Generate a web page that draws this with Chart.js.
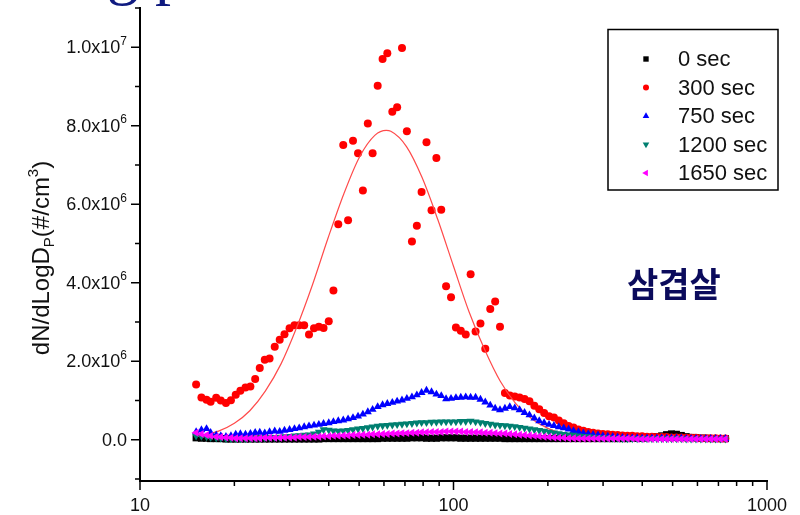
<!DOCTYPE html>
<html>
<head>
<meta charset="utf-8">
<script src="https://cdn.jsdelivr.net/npm/chart.js@4.4.1/dist/chart.umd.min.js"></script>
<style>
  body { margin: 0; background: #fff; }
  #wrap { position: relative; width: 800px; height: 515px; overflow: hidden; }
  #topTitle { position: absolute; left: 75px; top: -61px; font: 64px/1 'Liberation Serif', serif; color: #0f1a80; white-space: nowrap; }
  #sample { position: absolute; left: 627px; top: 266px; font: bold 34px/1 'Noto Sans CJK KR', sans-serif; color: #0b0b5c; white-space: nowrap; }
</style>
</head>
<body>
<div id="wrap">
  <canvas id="c" width="800" height="515"></canvas>
  <div id="topTitle">ng p</div>
  <div id="sample">삼겹살</div>
</div>
<script>
// particle diameter (nm), 64 channels / decade
const diam = [
  15.1, 15.7, 16.3, 16.8, 17.5, 18.1, 18.8, 19.5, 20.2, 20.9,
  21.7, 22.5, 23.3, 24.1, 25.0, 25.9, 26.9, 27.9, 28.9, 30.0,
  31.1, 32.2, 33.4, 34.6, 35.9, 37.2, 38.5, 40.0, 41.4, 42.9,
  44.5, 46.1, 47.8, 49.6, 51.4, 53.3, 55.2, 57.3, 59.4, 61.5,
  63.8, 66.1, 68.5, 71.0, 73.7, 76.4, 79.1, 82.0, 85.1, 88.2,
  91.4, 94.7, 98.2, 101.8, 105.5, 109.4, 113.4, 117.6, 121.9, 126.3,
  131.0, 135.8, 140.7, 145.9, 151.2, 156.8, 162.5, 168.5, 174.7, 181.1,
  187.7, 194.6, 201.7, 209.1, 216.7, 224.7, 232.9, 241.4, 250.3, 259.5,
  269.0, 278.8, 289.0, 299.6, 310.6, 322.0, 333.8, 346.0, 358.7, 371.8,
  385.4, 399.5, 414.2, 429.4, 445.1, 461.4, 478.3, 495.8, 514.0, 532.8,
  552.3, 572.5, 593.5, 615.3, 637.8, 661.2, 685.4, 710.5, 736.5
];

// dN/dLogDp in units of 10^6 #/cm3
const sec0 = [
  0.05, 0.04, 0.04, 0.03, 0.03, 0.03, 0.02, 0.02, 0.02, 0.02,
  0.02, 0.02, 0.02, 0.02, 0.02, 0.02, 0.02, 0.02, 0.02, 0.02,
  0.02, 0.02, 0.02, 0.02, 0.02, 0.02, 0.03, 0.03, 0.03, 0.03,
  0.03, 0.03, 0.03, 0.03, 0.03, 0.03, 0.03, 0.03, 0.04, 0.04,
  0.04, 0.04, 0.04, 0.04, 0.05, 0.05, 0.05, 0.04, 0.04, 0.04,
  0.05, 0.05, 0.05, 0.05, 0.04, 0.04, 0.04, 0.04, 0.04, 0.04,
  0.04, 0.04, 0.04, 0.03, 0.03, 0.03, 0.03, 0.03, 0.03, 0.03,
  0.03, 0.03, 0.03, 0.03, 0.03, 0.03, 0.03, 0.03, 0.03, 0.03,
  0.03, 0.03, 0.03, 0.03, 0.03, 0.03, 0.03, 0.03, 0.03, 0.04,
  0.04, 0.04, 0.05, 0.06, 0.08, 0.10, 0.13, 0.15, 0.14, 0.11,
  0.08, 0.06, 0.05, 0.04, 0.04, 0.03, 0.03, 0.03, 0.03
];
const sec300 = [
  1.41, 1.08, 1.02, 0.97, 1.07, 1.00, 0.94, 1.01, 1.15, 1.25,
  1.33, 1.36, 1.55, 1.83, 2.04, 2.07, 2.37, 2.55, 2.69, 2.84,
  2.92, 2.92, 2.92, 2.68, 2.84, 2.88, 2.85, 3.02, 3.80, 5.49,
  7.51, 5.59, 7.62, 7.30, 6.35, 8.06, 7.30, 9.02, 9.70, 9.85,
  8.36, 8.47, 9.98, 7.86, 5.05, 5.45, 6.31, 7.58, 5.85, 7.18,
  5.86, 3.91, 3.63, 2.86, 2.78, 2.68, 4.22, 2.76, 2.96, 2.32,
  3.33, 3.52, 2.88, 1.19, 1.13, 1.10, 1.08, 1.04, 0.98, 0.87,
  0.78, 0.68, 0.60, 0.57, 0.49, 0.42, 0.35, 0.31, 0.26, 0.23,
  0.20, 0.18, 0.16, 0.15, 0.14, 0.13, 0.12, 0.11, 0.10, 0.10,
  0.09, 0.09, 0.08, 0.08, 0.07, 0.07, 0.07, 0.06, 0.06, 0.06,
  0.05, 0.05, 0.05, 0.04, 0.04, 0.04, 0.04, 0.03, 0.03
];
const sec750 = [
  0.20, 0.25, 0.28, 0.18, 0.12, 0.10, 0.08, 0.10, 0.14, 0.15,
  0.14, 0.16, 0.18, 0.19, 0.17, 0.20, 0.22, 0.21, 0.24, 0.26,
  0.28, 0.30, 0.33, 0.35, 0.37, 0.39, 0.41, 0.43, 0.46, 0.48,
  0.50, 0.53, 0.56, 0.60, 0.65, 0.71, 0.77, 0.84, 0.89, 0.92,
  0.95, 0.98, 1.01, 1.05, 1.09, 1.14, 1.20, 1.26, 1.22, 1.16,
  1.12, 1.04, 1.05, 1.07, 1.08, 1.09, 1.08, 1.08, 1.03, 0.96,
  0.88, 0.80, 0.76, 0.80, 0.84, 0.81, 0.76, 0.69, 0.63, 0.55,
  0.48, 0.43, 0.39, 0.36, 0.33, 0.30, 0.27, 0.23, 0.20, 0.17,
  0.15, 0.13, 0.12, 0.10, 0.09, 0.08, 0.07, 0.06, 0.05, 0.05,
  0.05, 0.04, 0.04, 0.04, 0.04, 0.04, 0.04, 0.04, 0.04, 0.04,
  0.03, 0.03, 0.03, 0.03, 0.03, 0.03, 0.03, 0.03, 0.03
];
const sec1200 = [
  0.10, 0.09, 0.08, 0.06, 0.05, 0.04, 0.03, 0.03, 0.03, 0.03,
  0.03, 0.04, 0.04, 0.05, 0.05, 0.06, 0.06, 0.07, 0.08, 0.09,
  0.10, 0.11, 0.12, 0.13, 0.15, 0.20, 0.26, 0.25, 0.23, 0.22,
  0.23, 0.24, 0.26, 0.28, 0.29, 0.31, 0.33, 0.35, 0.36, 0.37,
  0.38, 0.39, 0.40, 0.41, 0.42, 0.43, 0.44, 0.44, 0.45, 0.45,
  0.46, 0.46, 0.46, 0.46, 0.47, 0.47, 0.48, 0.46, 0.44, 0.42,
  0.40, 0.38, 0.37, 0.36, 0.35, 0.34, 0.32, 0.30, 0.28, 0.26,
  0.24, 0.22, 0.20, 0.18, 0.16, 0.14, 0.13, 0.12, 0.10, 0.09,
  0.08, 0.07, 0.06, 0.05, 0.05, 0.04, 0.04, 0.03, 0.03, 0.03,
  0.03, 0.03, 0.03, 0.03, 0.03, 0.03, 0.03, 0.03, 0.03, 0.03,
  0.02, 0.02, 0.02, 0.02, 0.02, 0.02, 0.02, 0.02, 0.02
];
const sec1650 = [
  0.18, 0.15, 0.12, 0.10, 0.08, 0.07, 0.06, 0.05, 0.04, 0.04,
  0.04, 0.04, 0.04, 0.04, 0.05, 0.05, 0.05, 0.05, 0.06, 0.06,
  0.06, 0.07, 0.07, 0.07, 0.08, 0.08, 0.09, 0.09, 0.10, 0.10,
  0.11, 0.11, 0.12, 0.12, 0.13, 0.13, 0.14, 0.14, 0.15, 0.15,
  0.16, 0.16, 0.17, 0.17, 0.18, 0.18, 0.19, 0.19, 0.20, 0.20,
  0.20, 0.21, 0.21, 0.21, 0.21, 0.20, 0.20, 0.19, 0.19, 0.18,
  0.18, 0.17, 0.16, 0.16, 0.15, 0.14, 0.13, 0.12, 0.11, 0.10,
  0.09, 0.08, 0.07, 0.06, 0.05, 0.05, 0.04, 0.04, 0.03, 0.03,
  0.03, 0.03, 0.03, 0.03, 0.03, 0.03, 0.03, 0.03, 0.03, 0.03,
  0.02, 0.02, 0.02, 0.02, 0.02, 0.02, 0.02, 0.02, 0.02, 0.02,
  0.02, 0.02, 0.02, 0.02, 0.02, 0.02, 0.02, 0.02, 0.02
];

// fitted curve for 300 sec
const fitDiam = [15.1, 15.8, 17.8, 20.0, 22.4, 25.1, 28.2, 31.6, 35.5, 39.8, 44.7, 50.1, 56.2, 61.0,
                 63.1, 70.8, 79.4, 89.1, 100, 112, 126, 141, 158, 178, 200, 224, 251, 316, 398, 501, 736.5];
const fit300 = [0.08, 0.11, 0.22, 0.42, 0.74, 1.24, 1.94, 2.86, 3.95, 5.14, 6.27, 7.20, 7.76, 7.88,
                7.86, 7.47, 6.68, 5.61, 4.42, 3.27, 2.28, 1.49, 0.92, 0.53, 0.29, 0.15, 0.07, 0.013, 0.002, 0, 0];

const seriesLabels = ['0 sec', '300 sec', '750 sec', '1200 sec', '1650 sec'];
const xLabelTicks = [10, 100, 1000];
const xMinorTicks = [20, 30, 40, 50, 60, 70, 80, 90, 200, 300, 400, 500, 600, 700, 800, 900];
const yLabelTicks = [0, 2, 4, 6, 8, 10];
const yMinorTicks = [-1, 1, 3, 5, 7, 9, 11];

Chart.defaults.font.family = "'Liberation Sans', Arial, sans-serif";
Chart.defaults.color = '#111';
const FONT = "'Liberation Sans', Arial, sans-serif";

function pts(vals, xs) {
  xs = xs || diam;
  return xs.map((d, i) => ({ x: d, y: vals[i] }));
}

const markers = [
  { color: '#000000', style: 'rect', radius: 5, rot: 0 },
  { color: '#ff0000', style: 'circle', radius: 4, rot: 0 },
  { color: '#0000ff', style: 'triangle', radius: 4.6, rot: 0 },
  { color: '#007f70', style: 'triangle', radius: 4.6, rot: 180 },
  { color: '#ff00ff', style: 'triangle', radius: 4.6, rot: 270 }
];

function drawMarker(ctx, m, x, y, r) {
  ctx.fillStyle = m.color;
  ctx.beginPath();
  if (m.style === 'rect') {
    const s = r * Math.SQRT1_2;
    ctx.rect(x - s, y - s, 2 * s, 2 * s);
  } else if (m.style === 'circle') {
    ctx.arc(x, y, r, 0, Math.PI * 2);
  } else {
    let a = m.rot * Math.PI / 180;
    ctx.moveTo(x + Math.sin(a) * r, y - Math.cos(a) * r);
    a += Math.PI * 2 / 3;
    ctx.lineTo(x + Math.sin(a) * r, y - Math.cos(a) * r);
    a += Math.PI * 2 / 3;
    ctx.lineTo(x + Math.sin(a) * r, y - Math.cos(a) * r);
    ctx.closePath();
  }
  ctx.fill();
}

const extras = {
  id: 'extras',
  afterDraw(chart) {
    const ctx = chart.ctx, xs = chart.scales.x, ys = chart.scales.y, a = chart.chartArea;
    ctx.save();
    // tick marks
    ctx.strokeStyle = '#000';
    ctx.lineWidth = 1.5;
    ctx.beginPath();
    yLabelTicks.forEach(v => { const p = ys.getPixelForValue(v); ctx.moveTo(a.left - 9, p); ctx.lineTo(a.left, p); });
    yMinorTicks.forEach(v => { const p = ys.getPixelForValue(v); ctx.moveTo(a.left - 5, p); ctx.lineTo(a.left, p); });
    xLabelTicks.forEach(v => { const p = xs.getPixelForValue(v); ctx.moveTo(p, a.bottom); ctx.lineTo(p, a.bottom + 9); });
    xMinorTicks.forEach(v => { const p = xs.getPixelForValue(v); ctx.moveTo(p, a.bottom); ctx.lineTo(p, a.bottom + 5); });
    ctx.stroke();

    // y tick labels with superscript exponent
    ctx.fillStyle = '#111';
    ctx.textBaseline = 'middle';
    ctx.textAlign = 'right';
    const right = a.left - 13;
    yLabelTicks.forEach(v => {
      const p = ys.getPixelForValue(v);
      if (v === 0) {
        ctx.font = '18px ' + FONT;
        ctx.fillText('0.0', right, p + 1);
        return;
      }
      const mant = v === 10 ? '1.0' : v.toFixed(1);
      const exp = v === 10 ? '7' : '6';
      ctx.font = '12px ' + FONT;
      const ew = ctx.measureText(exp).width;
      ctx.fillText(exp, right, p - 6);
      ctx.font = '18px ' + FONT;
      ctx.fillText(mant + 'x10', right - ew, p + 1);
    });
    ctx.textAlign = 'left';

    // y axis title with sub/superscript
    const big = '24px ' + FONT;
    const small = '15px ' + FONT;
    const parts = [
      { t: 'dN/dLogD', f: big, dy: 0 },
      { t: 'P', f: small, dy: 5 },
      { t: '(#/cm', f: big, dy: 0 },
      { t: '3', f: small, dy: -11 },
      { t: ')', f: big, dy: 0 }
    ];
    let total = 0;
    parts.forEach(p => { ctx.font = p.f; p.w = ctx.measureText(p.t).width; total += p.w; });
    ctx.translate(49, 258);
    ctx.rotate(-Math.PI / 2);
    ctx.textBaseline = 'alphabetic';
    let cx = -total / 2;
    parts.forEach(p => { ctx.font = p.f; ctx.fillText(p.t, cx, p.dy); cx += p.w; });
    ctx.setTransform(1, 0, 0, 1, 0, 0);

    // legend box
    ctx.lineWidth = 1.5;
    ctx.strokeStyle = '#000';
    ctx.strokeRect(608, 29.5, 170, 160.5);
    ctx.font = '22px ' + FONT;
    ctx.textBaseline = 'middle';
    seriesLabels.forEach((lab, i) => {
      const y = 59 + i * 28.5;
      drawMarker(ctx, markers[i], 646, y, markers[i].style === 'circle' ? 3 : 3.8);
      ctx.fillStyle = '#111';
      ctx.fillText(lab, 678, y + 1);
    });
    ctx.restore();
  }
};

const seriesData = [sec0, sec300, sec750, sec1200, sec1650];
const drawOrder = [6, 5, 4, 3, 2];
const datasets = seriesData.map((vals, i) => ({
  label: seriesLabels[i],
  data: pts(vals),
  pointStyle: markers[i].style,
  pointRadius: markers[i].radius,
  pointRotation: markers[i].rot,
  pointBackgroundColor: markers[i].color,
  pointBorderWidth: 0,
  pointHoverRadius: markers[i].radius,
  order: drawOrder[i]
}));
datasets.push({
  label: '300 sec fit',
  data: pts(fit300, fitDiam),
  showLine: true,
  borderColor: '#ff4a4a',
  borderWidth: 1.2,
  pointRadius: 0,
  cubicInterpolationMode: 'monotone',
  order: 4.5
});

new Chart(document.getElementById('c'), {
  type: 'scatter',
  data: { datasets },
  options: {
    responsive: false,
    animation: false,
    layout: { padding: { left: 20, right: 33, top: 8, bottom: 0 } },
    plugins: { legend: { display: false }, tooltip: { enabled: false } },
    scales: {
      x: {
        type: 'logarithmic',
        min: 10,
        max: 1000,
        afterFit(s) { s.height = 34; s.paddingLeft = 0; s.paddingRight = 0; },
        grid: { display: true, drawOnChartArea: false, color: 'rgba(0,0,0,0)', tickLength: 9 },
        border: { display: true, color: '#000', width: 2 },
        ticks: {
          autoSkip: false, maxRotation: 0, padding: 5, font: { size: 18 },
          callback: v => xLabelTicks.find(t => Math.abs(v - t) < 1e-6 * t) ? String(v) : ''
        }
      },
      y: {
        min: -1.05,
        max: 11,
        afterFit(s) { s.width = 120; s.paddingTop = 0; s.paddingBottom = 0; },
        grid: { display: false },
        border: { display: true, color: '#000', width: 2 },
        ticks: { display: false, stepSize: 1 }
      }
    }
  },
  plugins: [extras]
});
</script>
</body>
</html>
